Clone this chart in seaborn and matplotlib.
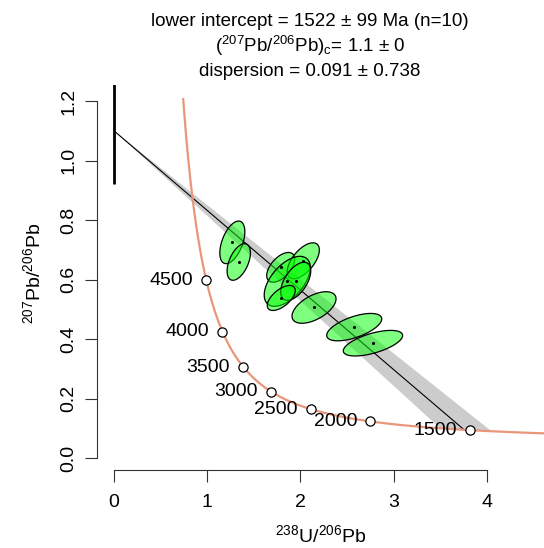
import numpy as np
import matplotlib
matplotlib.use("Agg")
import matplotlib.pyplot as plt
import seaborn as sns

# decay constants (1/Ma) and 238U/235U used for the Tera-Wasserburg concordia
lam238 = 1.55125e-4
lam235 = 9.8485e-4
u85 = 137.818

# age ticks shown on the concordia (Ma)
tick_ages = [1500, 2000, 2500, 3000, 3500, 4000, 4500]
conc_range = (1000, 5500)

# fit results (from the title)
lower_age = 1522
lower_err = 99
pb76_c = 1.1
pb76_bar = (0.92, 1.28)

# measured aliquots: 238U/206Pb, 207Pb/206Pb, half-widths of the error ellipses, correlation
u238_pb206 = [1.269, 1.338, 1.788, 2.030, 1.858, 1.949, 1.794, 2.145, 2.576, 2.777]
pb207_pb206 = [0.725, 0.659, 0.641, 0.663, 0.594, 0.594, 0.538, 0.506, 0.440, 0.386]
err_x = [0.134, 0.125, 0.150, 0.172, 0.247, 0.161, 0.150, 0.236, 0.295, 0.318]
err_y = [0.0716, 0.0615, 0.050, 0.0605, 0.084, 0.064, 0.042, 0.053, 0.046, 0.043]
rho = [0.5, 0.5, 0.55, 0.6, 0.55, 0.55, 0.6, 0.55, 0.6, 0.6]


def tera_wasserburg(t):
    t = np.asarray(t, dtype=float)
    e8 = np.exp(lam238 * t) - 1
    e5 = np.exp(lam235 * t) - 1
    return 1 / e8, e5 / e8 / u85


sns.set_style("ticks")
plt.rcParams["font.family"] = ["Liberation Sans", "DejaVu Sans"]
plt.rcParams["mathtext.default"] = "regular"
plt.rcParams["text.color"] = "black"
plt.rcParams["axes.labelcolor"] = "black"

W, H = 544, 548
fig = plt.figure(figsize=(W / 100, H / 100), dpi=100)
ax = fig.add_axes([97 / W, 1 - 470 / H, 447 / W, 385 / H])

# error envelope of the discordia (anchored at the common Pb intercept)
xa, ya = tera_wasserburg([lower_age - lower_err, lower_age + lower_err])
ax.fill([0, xa[0], xa[1]], [pb76_c, ya[0], ya[1]], color="#cccccc", lw=0, zorder=1)

# discordia line
xi, yi = tera_wasserburg(lower_age)
sns.lineplot(x=[0, float(xi)], y=[pb76_c, float(yi)], ax=ax, color="black", lw=0.8, zorder=2)

# concordia
cx, cy = tera_wasserburg(np.linspace(*conc_range, 400))
sns.lineplot(x=cx, y=cy, ax=ax, sort=False, color="darksalmon", lw=1.6, zorder=3)

# common Pb intercept bar
ax.plot([0, 0], pb76_bar, color="black", lw=2, solid_capstyle="butt", zorder=3)

# error ellipses
t = np.linspace(0, 2 * np.pi, 120)
for x0, y0, ex, ey, r in zip(u238_pb206, pb207_pb206, err_x, err_y, rho):
    ex_pts = x0 + ex * np.cos(t)
    ey_pts = y0 + ey * (r * np.cos(t) + np.sqrt(1 - r ** 2) * np.sin(t))
    ax.fill(ex_pts, ey_pts, facecolor=(0, 1, 0, 0.5), edgecolor="black", lw=0.9, zorder=4)
sns.scatterplot(x=u238_pb206, y=pb207_pb206, ax=ax, color="black", s=5, linewidth=0, zorder=5)

# age markers on the concordia
tx, ty = tera_wasserburg(tick_ages)
sns.scatterplot(x=tx, y=ty, ax=ax, s=44, facecolor="white", edgecolor="black",
                linewidth=0.9, zorder=6)
for a, x0, y0 in zip(tick_ages, tx, ty):
    ax.annotate(str(a), (x0, y0), xytext=(-9.5, 0), textcoords="offset points",
                ha="right", va="center", fontsize=14, zorder=6)

ax.set_xlim(-0.182, 4.611)
ax.set_ylim(-0.0403, 1.254)
ax.set_xticks([0, 1, 2, 3, 4])
ax.set_yticks([0, 0.2, 0.4, 0.6, 0.8, 1.0, 1.2])
ax.set_yticklabels(["0.0", "0.2", "0.4", "0.6", "0.8", "1.0", "1.2"])
for s in ["top", "right"]:
    ax.spines[s].set_visible(False)
ax.spines["left"].set_bounds(0, 1.2)
ax.spines["bottom"].set_bounds(0, 4)
for s in ["left", "bottom"]:
    ax.spines[s].set_linewidth(0.8)
    ax.spines[s].set_color("#333333")
ax.tick_params(axis="both", direction="out", length=8.6, width=0.8, color="#333333",
               labelsize=14, labelcolor="black")
ax.tick_params(axis="x", pad=9)
ax.tick_params(axis="y", pad=5.5, labelrotation=90)
for lab in ax.get_yticklabels():
    lab.set_va("center")

ax.set_xlabel(r"$^{238}$U/$^{206}$Pb", fontsize=14)
ax.set_ylabel(r"$^{207}$Pb/$^{206}$Pb", fontsize=14)
ax.xaxis.set_label_coords(0.5, -0.142)
ax.yaxis.set_label_coords(-0.118, 0.51)

# title
xc = 310 / W
fig.text(xc, 1 - 22 / H, "lower intercept = 1522 ± 99 Ma (n=10)", ha="center", va="center", fontsize=13.5)
fig.text(xc, 1 - 46 / H, r"($^{207}$Pb/$^{206}$Pb)$_c$= 1.1 ± 0", ha="center", va="center", fontsize=13.5)
fig.text(xc, 1 - 71 / H, "dispersion = 0.091 ± 0.738", ha="center", va="center", fontsize=13.5)

fig.savefig("out.png", dpi=100)
